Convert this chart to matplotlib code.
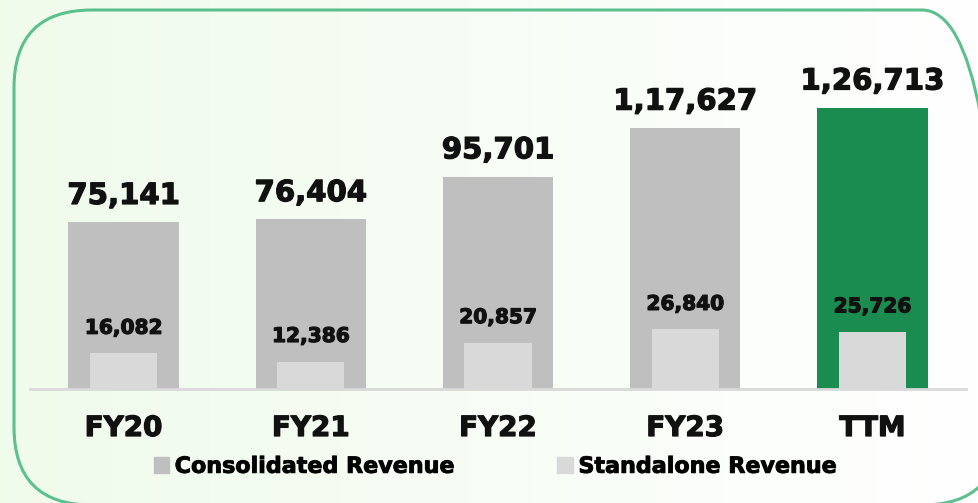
import matplotlib.pyplot as plt
import matplotlib.patheffects as pe
import numpy as np
from matplotlib.patches import FancyBboxPatch, Patch

plt.rcParams["font.family"] = ["DejaVu Sans"]

years = ["FY20", "FY21", "FY22", "FY23", "TTM"]
consolidated = [75141, 76404, 95701, 117627, 126713]
standalone = [16082, 12386, 20857, 26840, 25726]

GRAY = "#bfbfbf"
LIGHT = "#d9d9d9"
GREEN = "#1b8c50"
BORDER = "#5cc08e"
INK = "#111111"


def fmt_indian(n):
    s = str(n)
    if len(s) <= 3:
        return s
    head, tail = s[:-3], s[-3:]
    parts = []
    while len(head) > 2:
        parts.insert(0, head[-2:])
        head = head[:-2]
    if head:
        parts.insert(0, head)
    return ",".join(parts) + "," + tail


W, H = 979, 503
fig = plt.figure(figsize=(W / 100, H / 100), dpi=100)

# background: light green on the left fading to white, in pixel coords
bg = fig.add_axes([0, 0, 1, 1], zorder=-2)
grad = np.linspace(0, 1, 256).reshape(1, -1)
c0 = np.array([0.94, 0.985, 0.925])
c1 = np.array([1.0, 1.0, 1.0])
img = c0[None, None, :] * (1 - grad[..., None]) + c1[None, None, :] * grad[..., None]
bg.imshow(img, aspect="auto", extent=[0, W, 0, H])
bg.set_xlim(0, W)
bg.set_ylim(0, H)
bg.axis("off")

# rounded frame (runs slightly off the right and bottom edges)
frame = FancyBboxPatch((14, -2), 1000 - 14, 493 + 2,
                       boxstyle="round,pad=0,rounding_size=78",
                       fill=False, edgecolor=BORDER, linewidth=2.2,
                       clip_on=False)
bg.add_patch(frame)

ax = fig.add_axes([30 / W, 114 / H, 936 / W, 333 / H])
ax.patch.set_alpha(0)
x = np.arange(len(years))
colors = [GRAY] * (len(years) - 1) + [GREEN]

ax.bar(x, consolidated, width=0.59, color=colors, zorder=2)
ax.bar(x, standalone, width=0.36, color=LIGHT, zorder=3)

thick = [pe.withStroke(linewidth=0.9, foreground=INK)]
for xi, c, s in zip(x, consolidated, standalone):
    ax.text(xi, c + 5500, fmt_indian(c), ha="center", va="bottom",
            fontsize=21, fontweight="bold", color=INK, path_effects=thick)
    ax.text(xi, s + 7000, fmt_indian(s), ha="center", va="bottom",
            fontsize=14.5, fontweight="bold", color=INK, zorder=4,
            path_effects=thick)

ax.set_xlim(-0.5, 4.5)
ax.set_ylim(0, 150000)
ax.set_xticks(x)
ax.set_xticklabels(years, fontsize=20, fontweight="bold", color=INK)
for lbl in ax.get_xticklabels():
    lbl.set_path_effects(thick)
ax.tick_params(axis="x", length=0, pad=18)
ax.set_yticks([])
for side in ["top", "right", "left"]:
    ax.spines[side].set_visible(False)
ax.spines["bottom"].set_color(LIGHT)
ax.spines["bottom"].set_linewidth(2)

handles = [Patch(color=GRAY, label="Consolidated Revenue"),
           Patch(color=LIGHT, label="Standalone Revenue")]
leg = fig.legend(handles=handles, loc="center", bbox_to_anchor=(0.506, 0.072),
                 ncol=2, frameon=False, handlelength=0.7, handleheight=0.7,
                 handletextpad=0.25, columnspacing=4.6,
                 prop={"size": 16, "weight": "bold"})
for t in leg.get_texts():
    t.set_path_effects([pe.withStroke(linewidth=0.7, foreground=INK)])

fig.savefig("out.png", dpi=100)
